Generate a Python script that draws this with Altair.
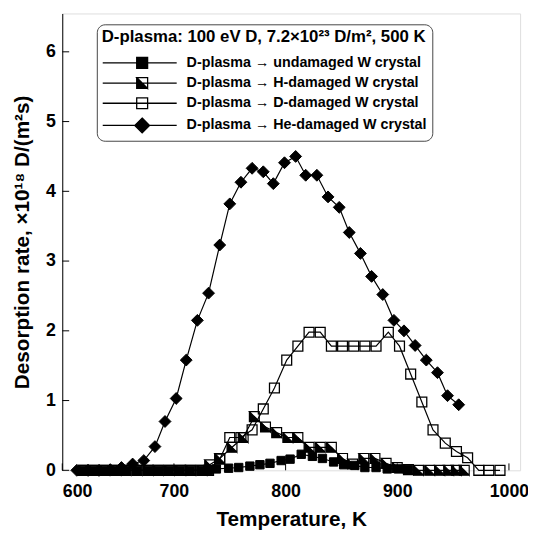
import altair as alt
import pandas as pd

FONT = "Liberation Sans"

series_names = [
    "D-plasma → undamaged W crystal",
    "D-plasma → H-damaged W crystal",
    "D-plasma → D-damaged W crystal",
    "D-plasma → He-damaged W crystal",
]

zero_T = [619, 628, 638, 648, 657, 667, 677, 686, 696, 706, 715, 725]

und_T = zero_T + [731, 738, 749, 758, 768, 777, 786, 796, 804, 814, 824, 833, 843, 852, 862, 871, 881, 891, 901, 910]
und_R = [0] * 12 + [0.0, 0.02, 0.03, 0.04, 0.06, 0.08, 0.10, 0.14, 0.16, 0.23, 0.20, 0.17, 0.12, 0.08, 0.07, 0.04, 0.04, 0.02, 0.02, 0.01]

h_T = zero_T + [732, 741, 752, 762, 772, 782, 792, 802, 811, 821, 831, 841, 851, 860, 870, 880, 890, 900, 910, 919, 929, 938, 946, 953, 960]
h_R = [0] * 12 + [0.08, 0.17, 0.33, 0.47, 0.77, 0.62, 0.54, 0.47, 0.47, 0.33, 0.33, 0.33, 0.17, 0.09, 0.17, 0.17, 0.10, 0.04, 0.01, 0, 0, 0, 0, 0, 0]

d_T = zero_T + [731, 741, 750, 760, 770, 780, 790, 801, 811, 821, 831, 841, 851, 861, 871, 881, 892, 902, 912, 922, 932, 943, 953, 963, 973, 982, 992]
d_R = [0] * 12 + [0.0, 0.16, 0.47, 0.47, 0.58, 0.88, 1.18, 1.58, 1.78, 1.98, 1.98, 1.78, 1.78, 1.78, 1.78, 1.78, 1.98, 1.78, 1.38, 0.98, 0.58, 0.39, 0.27, 0.18, 0, 0, 0]

he_T = [613, 623, 633, 643, 653, 663, 673, 683, 692, 702, 711, 721, 731, 741, 750, 760, 770, 780,
        789, 799, 809, 818, 828, 838, 848, 857, 867, 877, 887, 897, 906, 916, 926, 936, 945, 955]
he_R = [0, 0, 0, 0.01, 0.04, 0.09, 0.14, 0.34, 0.70, 1.03, 1.58, 2.15, 2.54, 3.23, 3.82, 4.13, 4.33, 4.28,
        4.11, 4.41, 4.50, 4.23, 4.23, 3.92, 3.77, 3.41, 3.11, 2.78, 2.52, 2.15, 2.00, 1.79, 1.58, 1.40, 1.07, 0.94]

x_ticks = [600, 700, 800, 900, 1000]
y_ticks = [0, 1, 2, 3, 4, 5, 6]

rows = []
for name, Ts, Rs in [(series_names[0], und_T, und_R), (series_names[1], h_T, h_R),
                     (series_names[2], d_T, d_R), (series_names[3], he_T, he_R)]:
    for t, r in zip(Ts, Rs):
        rows.append({"series": name, "T": t, "rate": r})
df = pd.DataFrame(rows)

W, H = 464, 463
xscale = alt.Scale(domain=[600, 1010], nice=False, zero=False)
yscale = alt.Scale(domain=[0, 6.55], nice=False)

xaxis = alt.Axis(values=x_ticks, format="d", title="Temperature, K", tickSize=0, labelPadding=13,
                 domain=False, grid=False, labelFontSize=18, labelFont=FONT, labelFontWeight="bold",
                 labelColor="black", titleFontSize=21, titleFont=FONT, titleFontWeight="bold",
                 titleColor="black", titlePadding=8)
yaxis = alt.Axis(values=y_ticks, title="Desorption rate, ×10¹⁸ D/(m²s)", tickSize=0, labelPadding=7,
                 domainColor="black", domainWidth=1, grid=False, labelFontSize=18, labelFont=FONT,
                 labelFontWeight="bold", labelColor="black", titleFontSize=21, titleFont=FONT,
                 titleFontWeight="bold", titleColor="black", titlePadding=13)

X = alt.X("T:Q", scale=xscale, axis=xaxis)
Y = alt.Y("rate:Q", scale=yscale, axis=yaxis)

base = alt.Chart(df)

lines = base.mark_line(color="black", strokeWidth=1.2).encode(x=X, y=Y, detail="series:N")

half_path = "M-1,-1H1V1H-1Z M-1,-1L1,1L1,-1Z"

pts_d = base.transform_filter(alt.datum.series == series_names[2]).mark_point(
    shape="square", size=100, filled=False, stroke="black", strokeWidth=1.3, opacity=1).encode(x=X, y=Y)
pts_h = base.transform_filter(alt.datum.series == series_names[1]).mark_point(
    shape=half_path, size=100, filled=True, fill="black", stroke="black", strokeWidth=1.2, opacity=1).encode(x=X, y=Y)
pts_u = base.transform_filter(alt.datum.series == series_names[0]).mark_point(
    shape="square", size=72, filled=True, fill="black", stroke="black", strokeWidth=1, opacity=1).encode(x=X, y=Y)
pts_he = base.transform_filter(alt.datum.series == series_names[3]).mark_point(
    shape="diamond", size=144, filled=True, fill="black", stroke="black", strokeWidth=1, opacity=1).encode(x=X, y=Y)

# legend symbols: line with marker (unit = 7px)
leg_sq = "M-1,0H9.71M3.92,-0.79H5.5V0.79H3.92Z"
leg_half = "M-1,0H9.71M3.92,-0.79H5.5V0.79H3.92Z M3.92,-0.79L5.5,0.79L5.5,-0.79Z"
leg_dia = "M-1,0H9.71M4.71,-1.07L5.78,0L4.71,1.07L3.64,0Z"

legend = alt.Legend(
    title="D-plasma: 100 eV D, 7.2×10²³ D/m², 500 K", orient="none", legendX=35, legendY=11,
    titleFontSize=17, titleFont=FONT, titleFontWeight="bold", titleColor="black", titleLimit=600,
    titlePadding=9, labelFontSize=14.5, labelFont=FONT, labelFontWeight="bold", labelColor="black",
    labelLimit=500, labelOffset=70, symbolSize=196, symbolStrokeWidth=1.3, symbolStrokeColor="black",
    symbolOpacity=1, rowPadding=2.5, padding=5, strokeColor="#444", cornerRadius=8, fillColor="white",
)

leg_layer = base.mark_point(opacity=0, filled=True, strokeWidth=1.3).encode(
    x=X, y=Y,
    shape=alt.Shape("series:N", scale=alt.Scale(domain=series_names, range=[leg_sq, leg_half, leg_sq, leg_dia]), legend=legend),
    fill=alt.Fill("series:N", scale=alt.Scale(domain=series_names, range=["black", "black", "white", "black"]), legend=legend),
    stroke=alt.Stroke("series:N", scale=alt.Scale(domain=series_names, range=["black", "black", "black", "black"]), legend=legend),
)

xt = alt.Chart(pd.DataFrame({"T": x_ticks})).mark_rule(color="black", strokeWidth=1).encode(
    x=X, y=alt.value(H), y2=alt.value(H - 7))
yt = alt.Chart(pd.DataFrame({"rate": y_ticks})).mark_rule(color="black", strokeWidth=1).encode(
    y=Y, x=alt.value(0), x2=alt.value(7))

chart = alt.layer(lines, pts_d, pts_h, pts_u, pts_he, leg_layer, xt, yt).properties(
    width=W, height=H,
    autosize=alt.AutoSizeParams(type="none"),
    padding={"left": 55, "top": 2, "right": 8, "bottom": 60},
).configure_view(stroke="#777", strokeWidth=1).configure(background="white")

chart.save("out.html", embed_options={"renderer": "svg", "actions": False})
